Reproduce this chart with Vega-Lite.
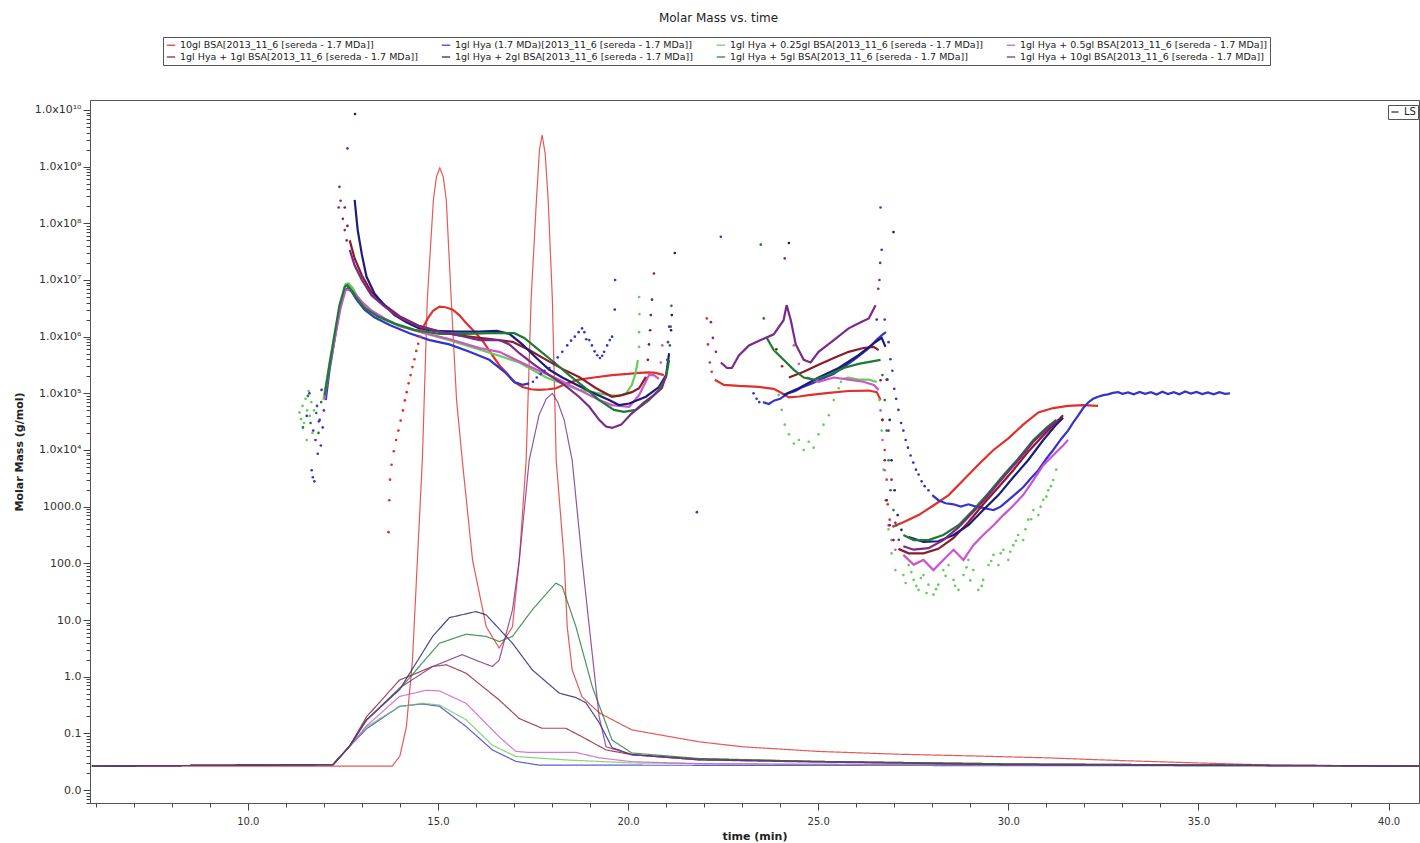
{
"$schema":"https://vega.github.io/schema/vega-lite/v6.json",
"width":1329,"height":703,
"autosize":{"type":"none"},
"padding":{"left":90,"top":100,"right":1,"bottom":40},
"background":"white",
"title":{"text":"Molar Mass vs. time","font":"DejaVu Sans","fontSize":12,"fontWeight":"normal","color":"#222","offset":12,"dx":-36,"anchor":"middle"},
"config":{"view":{"stroke":"#555","strokeWidth":1},"axis":{"labelFont":"DejaVu Sans","titleFont":"DejaVu Sans","labelColor":"#333","tickColor":"#444","grid":false,"domain":false}},
"datasets":{
"ls":[
{"s":"A","t":5.9,"m":0.0265},{"s":"A","t":13.8,"m":0.0265},{"s":"A","t":14.0,"m":0.04},{"s":"A","t":14.17,"m":0.13},{"s":"A","t":14.33,"m":1.95},{"s":"A","t":14.46,"m":115},{"s":"A","t":14.59,"m":6600},{"s":"A","t":14.72,"m":4.47e6},{"s":"A","t":14.88,"m":2.57e8},{"s":"A","t":14.96,"m":6.6e8},{"s":"A","t":15.05,"m":9.5e8},{"s":"A","t":15.14,"m":6.6e8},{"s":"A","t":15.22,"m":2.57e8},{"s":"A","t":15.35,"m":4.47e6},{"s":"A","t":15.49,"m":7.6e4},{"s":"A","t":15.64,"m":6600},{"s":"A","t":15.91,"m":115},{"s":"A","t":16.27,"m":7.6},{"s":"A","t":16.61,"m":3.2},{"s":"A","t":16.96,"m":7.6},{"s":"A","t":17.14,"m":115},{"s":"A","t":17.32,"m":6600},{"s":"A","t":17.45,"m":4.47e6},{"s":"A","t":17.59,"m":2.57e8},{"s":"A","t":17.67,"m":2.0e9},{"s":"A","t":17.74,"m":3.6e9},{"s":"A","t":17.82,"m":1.7e9},{"s":"A","t":17.9,"m":2.57e8},{"s":"A","t":18.01,"m":4.47e6},{"s":"A","t":18.11,"m":6600},{"s":"A","t":18.32,"m":115},{"s":"A","t":18.4,"m":7.6},{"s":"A","t":18.53,"m":1.32},{"s":"A","t":18.79,"m":0.44},{"s":"A","t":19.24,"m":0.23},{"s":"A","t":20.1,"m":0.115},{"s":"A","t":21.86,"m":0.071},{"s":"A","t":23,"m":0.058},{"s":"A","t":25,"m":0.048},{"s":"A","t":27,"m":0.043},{"s":"A","t":29,"m":0.04},{"s":"A","t":31,"m":0.037},{"s":"A","t":33,"m":0.033},{"s":"A","t":35,"m":0.03},{"s":"A","t":37,"m":0.0275},{"s":"A","t":40.8,"m":0.0265},
{"s":"B","t":5.9,"m":0.0265},{"s":"B","t":12.24,"m":0.028},{"s":"B","t":12.68,"m":0.059},{"s":"B","t":13.12,"m":0.12},{"s":"B","t":13.99,"m":0.3},{"s":"B","t":14.59,"m":0.33},{"s":"B","t":15.04,"m":0.3},{"s":"B","t":15.74,"m":0.132},{"s":"B","t":16.43,"m":0.051},{"s":"B","t":17.05,"m":0.032},{"s":"B","t":17.66,"m":0.0275},{"s":"B","t":40.8,"m":0.0265},
{"s":"C","t":5.9,"m":0.0265},{"s":"C","t":12.24,"m":0.028},{"s":"C","t":12.68,"m":0.059},{"s":"C","t":13.12,"m":0.13},{"s":"C","t":13.99,"m":0.295},{"s":"C","t":14.59,"m":0.339},{"s":"C","t":15.04,"m":0.316},{"s":"C","t":15.74,"m":0.174},{"s":"C","t":16.43,"m":0.062},{"s":"C","t":17.05,"m":0.039},{"s":"C","t":18.36,"m":0.034},{"s":"C","t":20.1,"m":0.03},{"s":"C","t":25,"m":0.028},{"s":"C","t":40.8,"m":0.0265},
{"s":"D","t":5.9,"m":0.0265},{"s":"D","t":12.24,"m":0.028},{"s":"D","t":12.68,"m":0.06},{"s":"D","t":13.12,"m":0.135},{"s":"D","t":13.99,"m":0.447},{"s":"D","t":14.69,"m":0.575},{"s":"D","t":15.04,"m":0.562},{"s":"D","t":15.74,"m":0.339},{"s":"D","t":16.61,"m":0.087},{"s":"D","t":17.05,"m":0.048},{"s":"D","t":17.4,"m":0.046},{"s":"D","t":18.63,"m":0.046},{"s":"D","t":19.24,"m":0.037},{"s":"D","t":20.1,"m":0.0316},{"s":"D","t":22,"m":0.029},{"s":"D","t":40.8,"m":0.0265},
{"s":"E","t":5.9,"m":0.0265},{"s":"E","t":12.24,"m":0.028},{"s":"E","t":12.68,"m":0.06},{"s":"E","t":13.12,"m":0.195},{"s":"E","t":13.99,"m":0.871},{"s":"E","t":14.86,"m":1.51},{"s":"E","t":15.22,"m":1.62},{"s":"E","t":15.74,"m":1.15},{"s":"E","t":16.61,"m":0.389},{"s":"E","t":17.14,"m":0.182},{"s":"E","t":17.74,"m":0.123},{"s":"E","t":18.36,"m":0.123},{"s":"E","t":18.79,"m":0.087},{"s":"E","t":19.42,"m":0.051},{"s":"E","t":20.1,"m":0.042},{"s":"E","t":21.86,"m":0.0355},{"s":"E","t":25,"m":0.032},{"s":"E","t":30,"m":0.029},{"s":"E","t":40.8,"m":0.0265},
{"s":"F","t":5.9,"m":0.0265},{"s":"F","t":12.24,"m":0.028},{"s":"F","t":12.68,"m":0.06},{"s":"F","t":13.12,"m":0.174},{"s":"F","t":13.99,"m":0.589},{"s":"F","t":14.86,"m":5.13},{"s":"F","t":15.3,"m":11},{"s":"F","t":16.0,"m":14.1},{"s":"F","t":16.27,"m":12.3},{"s":"F","t":16.96,"m":3.89},{"s":"F","t":17.48,"m":1.32},{"s":"F","t":18.19,"m":0.513},{"s":"F","t":18.63,"m":0.427},{"s":"F","t":18.89,"m":0.347},{"s":"F","t":19.24,"m":0.155},{"s":"F","t":19.58,"m":0.056},{"s":"F","t":20.1,"m":0.042},{"s":"F","t":21.86,"m":0.034},{"s":"F","t":25,"m":0.0316},{"s":"F","t":30,"m":0.028},{"s":"F","t":40.8,"m":0.0265},
{"s":"G","t":5.9,"m":0.0265},{"s":"G","t":12.24,"m":0.028},{"s":"G","t":12.68,"m":0.06},{"s":"G","t":13.12,"m":0.17},{"s":"G","t":13.99,"m":0.6},{"s":"G","t":15.04,"m":3.89},{"s":"G","t":15.74,"m":5.62},{"s":"G","t":16.27,"m":5.13},{"s":"G","t":16.61,"m":4.17},{"s":"G","t":16.96,"m":5.13},{"s":"G","t":17.48,"m":15.1},{"s":"G","t":18.1,"m":44.7},{"s":"G","t":18.27,"m":38.9},{"s":"G","t":18.63,"m":7.59},{"s":"G","t":19.06,"m":0.661},{"s":"G","t":19.58,"m":0.076},{"s":"G","t":20.1,"m":0.045},{"s":"G","t":21.86,"m":0.036},{"s":"G","t":25,"m":0.032},{"s":"G","t":30,"m":0.029},{"s":"G","t":40.8,"m":0.0265},
{"s":"H","t":5.9,"m":0.0265},{"s":"H","t":12.24,"m":0.028},{"s":"H","t":12.68,"m":0.06},{"s":"H","t":13.12,"m":0.17},{"s":"H","t":13.99,"m":0.631},{"s":"H","t":14.86,"m":1.51},{"s":"H","t":15.64,"m":2.45},{"s":"H","t":16.0,"m":1.95},{"s":"H","t":16.43,"m":1.51},{"s":"H","t":16.61,"m":1.95},{"s":"H","t":16.96,"m":15.1},{"s":"H","t":17.14,"m":115},{"s":"H","t":17.4,"m":6607},{"s":"H","t":17.66,"m":4.17e4},{"s":"H","t":17.85,"m":8e4},{"s":"H","t":18.01,"m":1e5},{"s":"H","t":18.15,"m":7e4},{"s":"H","t":18.32,"m":3.39e4},{"s":"H","t":18.53,"m":6607},{"s":"H","t":18.79,"m":115},{"s":"H","t":18.98,"m":7.59},{"s":"H","t":19.24,"m":0.195},{"s":"H","t":19.42,"m":0.058},{"s":"H","t":20.1,"m":0.042},{"s":"H","t":21.86,"m":0.034},{"s":"H","t":25,"m":0.031},{"s":"H","t":30,"m":0.028},{"s":"H","t":40.8,"m":0.0265}
],
"mm":[
{"s":"A","g":1,"t":14.62,"m":1.5e6},{"s":"A","g":1,"t":14.75,"m":2.2e6},{"s":"A","g":1,"t":14.88,"m":2.9e6},{"s":"A","g":1,"t":15.04,"m":3.4e6},{"s":"A","g":1,"t":15.2,"m":3.3e6},{"s":"A","g":1,"t":15.39,"m":3.0e6},{"s":"A","g":1,"t":15.56,"m":2.4e6},{"s":"A","g":1,"t":15.74,"m":1.74e6},{"s":"A","g":1,"t":16.0,"m":1.15e6},{"s":"A","g":1,"t":16.2,"m":8e5},{"s":"A","g":1,"t":16.43,"m":4.7e5},{"s":"A","g":1,"t":16.62,"m":3.1e5},{"s":"A","g":1,"t":16.8,"m":2.3e5},{"s":"A","g":1,"t":17.01,"m":1.58e5},{"s":"A","g":1,"t":17.22,"m":1.29e5},{"s":"A","g":1,"t":17.45,"m":1.18e5},{"s":"A","g":1,"t":17.66,"m":1.15e5},{"s":"A","g":1,"t":17.9,"m":1.18e5},{"s":"A","g":1,"t":18.11,"m":1.23e5},{"s":"A","g":1,"t":18.4,"m":1.5e5},{"s":"A","g":1,"t":18.71,"m":1.74e5},{"s":"A","g":1,"t":19.1,"m":1.9e5},{"s":"A","g":1,"t":19.58,"m":2.1e5},{"s":"A","g":1,"t":20.0,"m":2.2e5},{"s":"A","g":1,"t":20.29,"m":2.3e5},{"s":"A","g":1,"t":20.55,"m":2.35e5},{"s":"A","g":1,"t":20.73,"m":2.3e5},{"s":"A","g":1,"t":20.94,"m":2.1e5},
{"s":"A","g":2,"t":22.28,"m":1.74e5},{"s":"A","g":2,"t":22.52,"m":1.41e5},{"s":"A","g":2,"t":22.91,"m":1.35e5},{"s":"A","g":2,"t":23.44,"m":1.3e5},{"s":"A","g":2,"t":23.83,"m":1.2e5},{"s":"A","g":2,"t":24.05,"m":1.0e5},{"s":"A","g":2,"t":24.23,"m":8.5e4},{"s":"A","g":2,"t":24.5,"m":8.8e4},{"s":"A","g":2,"t":24.75,"m":9.3e4},{"s":"A","g":2,"t":25.28,"m":1.02e5},{"s":"A","g":2,"t":25.8,"m":1.1e5},{"s":"A","g":2,"t":26.33,"m":1.12e5},{"s":"A","g":2,"t":26.54,"m":1.05e5},{"s":"A","g":2,"t":26.64,"m":7.6e4},
{"s":"A","g":3,"t":26.95,"m":440},{"s":"A","g":3,"t":27.24,"m":530},{"s":"A","g":3,"t":27.64,"m":710},{"s":"A","g":3,"t":28.03,"m":1050},{"s":"A","g":3,"t":28.43,"m":1600},{"s":"A","g":3,"t":28.82,"m":2950},{"s":"A","g":3,"t":29.21,"m":5500},{"s":"A","g":3,"t":29.61,"m":1e4},{"s":"A","g":3,"t":30.0,"m":1.6e4},{"s":"A","g":3,"t":30.39,"m":2.8e4},{"s":"A","g":3,"t":30.79,"m":4.6e4},{"s":"A","g":3,"t":31.18,"m":5.5e4},{"s":"A","g":3,"t":31.57,"m":6.0e4},{"s":"A","g":3,"t":31.97,"m":6.2e4},{"s":"A","g":3,"t":32.36,"m":6.0e4},
{"s":"B","g":1,"t":12.05,"m":7.6e4},{"s":"B","g":1,"t":12.15,"m":2.6e5},{"s":"B","g":1,"t":12.28,"m":8.7e5},{"s":"B","g":1,"t":12.41,"m":3.0e6},{"s":"B","g":1,"t":12.55,"m":6.6e6},{"s":"B","g":1,"t":12.62,"m":7.1e6},{"s":"B","g":1,"t":12.73,"m":6.2e6},{"s":"B","g":1,"t":12.86,"m":4.5e6},{"s":"B","g":1,"t":13.07,"m":3.0e6},{"s":"B","g":1,"t":13.33,"m":2.2e6},{"s":"B","g":1,"t":13.73,"m":1.6e6},{"s":"B","g":1,"t":14.25,"m":1.15e6},{"s":"B","g":1,"t":14.78,"m":8.7e5},{"s":"B","g":1,"t":15.3,"m":7.3e5},{"s":"B","g":1,"t":15.83,"m":5.4e5},{"s":"B","g":1,"t":16.35,"m":3.9e5},{"s":"B","g":1,"t":16.75,"m":2.4e5},{"s":"B","g":1,"t":17.01,"m":1.58e5},{"s":"B","g":1,"t":17.22,"m":1.41e5},{"s":"B","g":1,"t":17.4,"m":1.5e5},
{"s":"B","g":2,"t":23.55,"m":7e4},{"s":"B","g":2,"t":23.7,"m":6.5e4},{"s":"B","g":2,"t":23.85,"m":7.5e4},{"s":"B","g":2,"t":24.0,"m":8e4},{"s":"B","g":2,"t":24.2,"m":1.0e5},{"s":"B","g":2,"t":24.4,"m":1.1e5},{"s":"B","g":2,"t":24.6,"m":1.3e5},{"s":"B","g":2,"t":24.85,"m":1.5e5},{"s":"B","g":2,"t":25.1,"m":1.8e5},{"s":"B","g":2,"t":25.4,"m":2.2e5},{"s":"B","g":2,"t":25.7,"m":3e5},{"s":"B","g":2,"t":26.0,"m":4.2e5},{"s":"B","g":2,"t":26.3,"m":6e5},{"s":"B","g":2,"t":26.55,"m":9e5},{"s":"B","g":2,"t":26.7,"m":1.1e6},{"s":"B","g":2,"t":26.78,"m":1.2e6},
{"s":"B","g":3,"t":28.0,"m":1600},{"s":"B","g":3,"t":28.16,"m":1300},{"s":"B","g":3,"t":28.35,"m":1150},{"s":"B","g":3,"t":28.56,"m":1100},{"s":"B","g":3,"t":28.75,"m":1000},{"s":"B","g":3,"t":28.95,"m":1100},{"s":"B","g":3,"t":29.15,"m":1000},{"s":"B","g":3,"t":29.34,"m":950},{"s":"B","g":3,"t":29.5,"m":900},{"s":"B","g":3,"t":29.61,"m":870},{"s":"B","g":3,"t":29.8,"m":1000},{"s":"B","g":3,"t":30.0,"m":1300},{"s":"B","g":3,"t":30.2,"m":1700},{"s":"B","g":3,"t":30.39,"m":2200},{"s":"B","g":3,"t":30.6,"m":3200},{"s":"B","g":3,"t":30.79,"m":4400},{"s":"B","g":3,"t":31.0,"m":7000},{"s":"B","g":3,"t":31.18,"m":1e4},{"s":"B","g":3,"t":31.4,"m":1.6e4},{"s":"B","g":3,"t":31.57,"m":2.2e4},{"s":"B","g":3,"t":31.7,"m":3e4},{"s":"B","g":3,"t":31.84,"m":4.1e4},{"s":"B","g":3,"t":31.97,"m":5.5e4},{"s":"B","g":3,"t":32.1,"m":6.9e4},{"s":"B","g":3,"t":32.23,"m":8e4},{"s":"B","g":3,"t":32.36,"m":8.7e4},{"s":"B","g":3,"t":32.5,"m":9.3e4},{"s":"B","g":3,"t":32.62,"m":9.6e4},{"s":"B","g":3,"t":32.75,"m":1.02e5},{"s":"B","g":3,"t":32.89,"m":1.05e5},{"s":"B","g":3,"t":33.0,"m":9.8e4},{"s":"B","g":3,"t":33.15,"m":1.04e5},{"s":"B","g":3,"t":33.3,"m":9.6e4},{"s":"B","g":3,"t":33.45,"m":1.06e5},{"s":"B","g":3,"t":33.6,"m":9.8e4},{"s":"B","g":3,"t":33.75,"m":1.05e5},{"s":"B","g":3,"t":33.9,"m":9.5e4},{"s":"B","g":3,"t":34.05,"m":1.07e5},{"s":"B","g":3,"t":34.2,"m":9.7e4},{"s":"B","g":3,"t":34.35,"m":1.05e5},{"s":"B","g":3,"t":34.5,"m":9.6e4},{"s":"B","g":3,"t":34.65,"m":1.08e5},{"s":"B","g":3,"t":34.8,"m":9.9e4},{"s":"B","g":3,"t":34.95,"m":1.06e5},{"s":"B","g":3,"t":35.1,"m":9.7e4},{"s":"B","g":3,"t":35.25,"m":1.04e5},{"s":"B","g":3,"t":35.4,"m":9.6e4},{"s":"B","g":3,"t":35.55,"m":1.05e5},{"s":"B","g":3,"t":35.7,"m":9.8e4},{"s":"B","g":3,"t":35.83,"m":1.0e5},
{"s":"C","g":1,"t":11.99,"m":7.6e4},{"s":"C","g":1,"t":12.15,"m":3.5e5},{"s":"C","g":1,"t":12.31,"m":1.3e6},{"s":"C","g":1,"t":12.44,"m":3.9e6},{"s":"C","g":1,"t":12.57,"m":8.5e6},{"s":"C","g":1,"t":12.65,"m":8.7e6},{"s":"C","g":1,"t":12.76,"m":7.2e6},{"s":"C","g":1,"t":12.89,"m":5.0e6},{"s":"C","g":1,"t":13.12,"m":3.2e6},{"s":"C","g":1,"t":13.46,"m":2.2e6},{"s":"C","g":1,"t":13.99,"m":1.55e6},{"s":"C","g":1,"t":14.65,"m":1.15e6},{"s":"C","g":1,"t":15.3,"m":8.7e5},{"s":"C","g":1,"t":15.96,"m":6.3e5},{"s":"C","g":1,"t":16.61,"m":4.6e5},{"s":"C","g":1,"t":17.14,"m":3.5e5},{"s":"C","g":1,"t":17.85,"m":1.9e5},{"s":"C","g":1,"t":18.71,"m":1.15e5},{"s":"C","g":1,"t":19.5,"m":9.3e4},{"s":"C","g":1,"t":19.76,"m":9.0e4},{"s":"C","g":1,"t":19.95,"m":1.0e5},{"s":"C","g":1,"t":20.1,"m":1.41e5},{"s":"C","g":1,"t":20.2,"m":2.3e5},{"s":"C","g":1,"t":20.26,"m":3.9e5},
{"s":"C","g":2,"t":25.67,"m":1.8e5},{"s":"C","g":2,"t":25.8,"m":1.9e5},{"s":"C","g":2,"t":26.06,"m":1.74e5},{"s":"C","g":2,"t":26.33,"m":1.74e5},{"s":"C","g":2,"t":26.54,"m":1.58e5},
{"s":"D","g":1,"t":12.02,"m":8e4},{"s":"D","g":1,"t":12.15,"m":3.0e5},{"s":"D","g":1,"t":12.31,"m":1.1e6},{"s":"D","g":1,"t":12.44,"m":3.2e6},{"s":"D","g":1,"t":12.57,"m":6.6e6},{"s":"D","g":1,"t":12.68,"m":6.9e6},{"s":"D","g":1,"t":12.81,"m":5.8e6},{"s":"D","g":1,"t":13.0,"m":4.1e6},{"s":"D","g":1,"t":13.25,"m":2.9e6},{"s":"D","g":1,"t":13.6,"m":2.1e6},{"s":"D","g":1,"t":13.99,"m":1.55e6},{"s":"D","g":1,"t":14.65,"m":1.15e6},{"s":"D","g":1,"t":15.3,"m":9.1e5},{"s":"D","g":1,"t":16.09,"m":6.3e5},{"s":"D","g":1,"t":16.61,"m":5.4e5},{"s":"D","g":1,"t":17.4,"m":3.0e5},{"s":"D","g":1,"t":18.19,"m":1.74e5},{"s":"D","g":1,"t":18.71,"m":1.15e5},{"s":"D","g":1,"t":19.24,"m":7.6e4},{"s":"D","g":1,"t":19.58,"m":6.2e4},{"s":"D","g":1,"t":20.03,"m":5.8e4},{"s":"D","g":1,"t":20.29,"m":9.3e4},{"s":"D","g":1,"t":20.55,"m":2.1e5},{"s":"D","g":1,"t":20.68,"m":2.1e5},{"s":"D","g":1,"t":20.81,"m":1.8e5},
{"s":"D","g":2,"t":24.7,"m":1.9e5},{"s":"D","g":2,"t":25.01,"m":1.6e5},{"s":"D","g":2,"t":25.41,"m":1.9e5},{"s":"D","g":2,"t":25.8,"m":1.74e5},{"s":"D","g":2,"t":26.19,"m":1.6e5},{"s":"D","g":2,"t":26.46,"m":1.41e5},{"s":"D","g":2,"t":26.59,"m":1.15e5},
{"s":"D","g":3,"t":27.24,"m":141},{"s":"D","g":3,"t":27.51,"m":95},{"s":"D","g":3,"t":27.77,"m":115},{"s":"D","g":3,"t":28.03,"m":76},{"s":"D","g":3,"t":28.29,"m":115},{"s":"D","g":3,"t":28.56,"m":174},{"s":"D","g":3,"t":28.82,"m":115},{"s":"D","g":3,"t":29.08,"m":209},{"s":"D","g":3,"t":29.34,"m":316},{"s":"D","g":3,"t":29.61,"m":470},{"s":"D","g":3,"t":29.87,"m":710},{"s":"D","g":3,"t":30.13,"m":1050},{"s":"D","g":3,"t":30.39,"m":1600},{"s":"D","g":3,"t":30.66,"m":2950},{"s":"D","g":3,"t":30.92,"m":5400},{"s":"D","g":3,"t":31.18,"m":8100},{"s":"D","g":3,"t":31.44,"m":1.2e4},{"s":"D","g":3,"t":31.57,"m":1.5e4},
{"s":"E","g":1,"t":12.68,"m":5e7},{"s":"E","g":1,"t":12.81,"m":2.4e7},{"s":"E","g":1,"t":13.0,"m":1.2e7},{"s":"E","g":1,"t":13.25,"m":6.1e6},{"s":"E","g":1,"t":13.6,"m":3.6e6},{"s":"E","g":1,"t":13.99,"m":2.3e6},{"s":"E","g":1,"t":14.51,"m":1.55e6},{"s":"E","g":1,"t":15.04,"m":1.23e6},{"s":"E","g":1,"t":15.56,"m":1.05e6},{"s":"E","g":1,"t":16.09,"m":9.5e5},{"s":"E","g":1,"t":16.61,"m":8.7e5},{"s":"E","g":1,"t":16.96,"m":8.1e5},{"s":"E","g":1,"t":17.4,"m":5.8e5},{"s":"E","g":1,"t":17.85,"m":3.9e5},{"s":"E","g":1,"t":18.27,"m":2.7e5},{"s":"E","g":1,"t":18.71,"m":1.95e5},{"s":"E","g":1,"t":19.16,"m":1.23e5},{"s":"E","g":1,"t":19.58,"m":8.7e4},{"s":"E","g":1,"t":19.84,"m":9.3e4},{"s":"E","g":1,"t":20.1,"m":1.05e5},{"s":"E","g":1,"t":20.29,"m":1.23e5},{"s":"E","g":1,"t":20.47,"m":1.95e5},
{"s":"E","g":2,"t":24.23,"m":1.9e5},{"s":"E","g":2,"t":24.62,"m":2.4e5},{"s":"E","g":2,"t":25.01,"m":3.2e5},{"s":"E","g":2,"t":25.41,"m":4.2e5},{"s":"E","g":2,"t":25.8,"m":5.4e5},{"s":"E","g":2,"t":26.19,"m":6.3e5},{"s":"E","g":2,"t":26.46,"m":6.6e5},{"s":"E","g":2,"t":26.59,"m":5.8e5},
{"s":"E","g":3,"t":27.11,"m":180},{"s":"E","g":3,"t":27.38,"m":150},{"s":"E","g":3,"t":27.77,"m":150},{"s":"E","g":3,"t":28.16,"m":180},{"s":"E","g":3,"t":28.56,"m":280},{"s":"E","g":3,"t":28.95,"m":530},{"s":"E","g":3,"t":29.34,"m":1100},{"s":"E","g":3,"t":29.74,"m":2200},{"s":"E","g":3,"t":30.13,"m":4400},{"s":"E","g":3,"t":30.52,"m":9300},{"s":"E","g":3,"t":30.92,"m":1.8e4},{"s":"E","g":3,"t":31.26,"m":3.1e4},{"s":"E","g":3,"t":31.44,"m":4.1e4},
{"s":"F","g":1,"t":12.81,"m":2.6e8},{"s":"F","g":1,"t":12.89,"m":7.6e7},{"s":"F","g":1,"t":13.0,"m":2.8e7},{"s":"F","g":1,"t":13.12,"m":1.15e7},{"s":"F","g":1,"t":13.33,"m":5.8e6},{"s":"F","g":1,"t":13.54,"m":3.9e6},{"s":"F","g":1,"t":13.86,"m":2.4e6},{"s":"F","g":1,"t":14.17,"m":1.8e6},{"s":"F","g":1,"t":14.51,"m":1.4e6},{"s":"F","g":1,"t":14.91,"m":1.26e6},{"s":"F","g":1,"t":15.49,"m":1.23e6},{"s":"F","g":1,"t":16.09,"m":1.23e6},{"s":"F","g":1,"t":16.54,"m":1.26e6},{"s":"F","g":1,"t":16.88,"m":1.12e6},{"s":"F","g":1,"t":17.22,"m":7.3e5},{"s":"F","g":1,"t":17.59,"m":4.2e5},{"s":"F","g":1,"t":17.93,"m":2.6e5},{"s":"F","g":1,"t":18.27,"m":1.9e5},{"s":"F","g":1,"t":18.71,"m":1.35e5},{"s":"F","g":1,"t":19.16,"m":9.6e4},{"s":"F","g":1,"t":19.5,"m":7.6e4},{"s":"F","g":1,"t":19.76,"m":6.2e4},{"s":"F","g":1,"t":20.03,"m":6.6e4},{"s":"F","g":1,"t":20.47,"m":8.7e4},{"s":"F","g":1,"t":20.81,"m":1.29e5},{"s":"F","g":1,"t":21.0,"m":2.1e5},{"s":"F","g":1,"t":21.08,"m":5.1e5},
{"s":"F","g":2,"t":24.09,"m":9.3e4},{"s":"F","g":2,"t":24.49,"m":1.23e5},{"s":"F","g":2,"t":25.01,"m":1.9e5},{"s":"F","g":2,"t":25.54,"m":2.8e5},{"s":"F","g":2,"t":26.06,"m":4.7e5},{"s":"F","g":2,"t":26.46,"m":7.6e5},{"s":"F","g":2,"t":26.67,"m":9.5e5},{"s":"F","g":2,"t":26.77,"m":6.6e5},
{"s":"F","g":3,"t":27.38,"m":290},{"s":"F","g":3,"t":27.77,"m":240},{"s":"F","g":3,"t":28.16,"m":245},{"s":"F","g":3,"t":28.56,"m":316},{"s":"F","g":3,"t":28.95,"m":470},{"s":"F","g":3,"t":29.34,"m":870},{"s":"F","g":3,"t":29.74,"m":1600},{"s":"F","g":3,"t":30.13,"m":3300},{"s":"F","g":3,"t":30.52,"m":6600},{"s":"F","g":3,"t":30.92,"m":1.5e4},{"s":"F","g":3,"t":31.26,"m":2.8e4},{"s":"F","g":3,"t":31.44,"m":3.7e4},
{"s":"G","g":1,"t":12.02,"m":9.3e4},{"s":"G","g":1,"t":12.15,"m":3.2e5},{"s":"G","g":1,"t":12.28,"m":1.1e6},{"s":"G","g":1,"t":12.41,"m":3.6e6},{"s":"G","g":1,"t":12.55,"m":7.6e6},{"s":"G","g":1,"t":12.62,"m":8.1e6},{"s":"G","g":1,"t":12.73,"m":6.6e6},{"s":"G","g":1,"t":12.86,"m":4.8e6},{"s":"G","g":1,"t":13.07,"m":3.2e6},{"s":"G","g":1,"t":13.41,"m":2.3e6},{"s":"G","g":1,"t":13.86,"m":1.7e6},{"s":"G","g":1,"t":14.38,"m":1.32e6},{"s":"G","g":1,"t":15.04,"m":1.12e6},{"s":"G","g":1,"t":15.7,"m":1.12e6},{"s":"G","g":1,"t":16.35,"m":1.15e6},{"s":"G","g":1,"t":17.01,"m":1.15e6},{"s":"G","g":1,"t":17.27,"m":9.5e5},{"s":"G","g":1,"t":17.66,"m":5.8e5},{"s":"G","g":1,"t":18.06,"m":3.5e5},{"s":"G","g":1,"t":18.45,"m":2.1e5},{"s":"G","g":1,"t":18.85,"m":1.29e5},{"s":"G","g":1,"t":19.24,"m":7.6e4},{"s":"G","g":1,"t":19.63,"m":5.1e4},{"s":"G","g":1,"t":19.89,"m":4.7e4},{"s":"G","g":1,"t":20.21,"m":5.1e4},{"s":"G","g":1,"t":20.55,"m":7.6e4},{"s":"G","g":1,"t":20.81,"m":1.15e5},{"s":"G","g":1,"t":21.0,"m":1.95e5},{"s":"G","g":1,"t":21.08,"m":3.9e5},
{"s":"G","g":2,"t":23.65,"m":9.5e5},{"s":"G","g":2,"t":23.83,"m":5.8e5},{"s":"G","g":2,"t":24.09,"m":3.9e5},{"s":"G","g":2,"t":24.36,"m":2.6e5},{"s":"G","g":2,"t":24.62,"m":1.9e5},{"s":"G","g":2,"t":24.88,"m":1.74e5},{"s":"G","g":2,"t":25.28,"m":2.1e5},{"s":"G","g":2,"t":25.67,"m":2.8e5},{"s":"G","g":2,"t":26.06,"m":3.3e5},{"s":"G","g":2,"t":26.46,"m":3.7e5},{"s":"G","g":2,"t":26.64,"m":3.9e5},
{"s":"G","g":3,"t":27.24,"m":316},{"s":"G","g":3,"t":27.51,"m":257},{"s":"G","g":3,"t":27.9,"m":257},{"s":"G","g":3,"t":28.29,"m":316},{"s":"G","g":3,"t":28.69,"m":470},{"s":"G","g":3,"t":29.08,"m":870},{"s":"G","g":3,"t":29.48,"m":1750},{"s":"G","g":3,"t":29.87,"m":3600},{"s":"G","g":3,"t":30.26,"m":7000},{"s":"G","g":3,"t":30.66,"m":1.5e4},{"s":"G","g":3,"t":31.0,"m":2.45e4},{"s":"G","g":3,"t":31.26,"m":3.4e4},
{"s":"H","g":1,"t":12.68,"m":3.4e7},{"s":"H","g":1,"t":12.81,"m":1.8e7},{"s":"H","g":1,"t":13.0,"m":1.0e7},{"s":"H","g":1,"t":13.25,"m":5.4e6},{"s":"H","g":1,"t":13.6,"m":3.4e6},{"s":"H","g":1,"t":13.99,"m":2.2e6},{"s":"H","g":1,"t":14.51,"m":1.5e6},{"s":"H","g":1,"t":15.04,"m":1.23e6},{"s":"H","g":1,"t":15.56,"m":1.05e6},{"s":"H","g":1,"t":16.09,"m":8.7e5},{"s":"H","g":1,"t":16.61,"m":8.7e5},{"s":"H","g":1,"t":16.88,"m":7.3e5},{"s":"H","g":1,"t":17.14,"m":5.1e5},{"s":"H","g":1,"t":17.53,"m":3.2e5},{"s":"H","g":1,"t":17.93,"m":2.1e5},{"s":"H","g":1,"t":18.32,"m":1.41e5},{"s":"H","g":1,"t":18.71,"m":8.7e4},{"s":"H","g":1,"t":18.98,"m":5.8e4},{"s":"H","g":1,"t":19.24,"m":3.4e4},{"s":"H","g":1,"t":19.42,"m":2.6e4},{"s":"H","g":1,"t":19.58,"m":2.45e4},{"s":"H","g":1,"t":19.82,"m":2.8e4},{"s":"H","g":1,"t":20.08,"m":4.3e4},{"s":"H","g":1,"t":20.42,"m":6.9e4},{"s":"H","g":1,"t":20.68,"m":9.3e4},{"s":"H","g":1,"t":20.89,"m":1.23e5},{"s":"H","g":1,"t":21.0,"m":2.1e5},
{"s":"H","g":2,"t":22.44,"m":3.5e5},{"s":"H","g":2,"t":22.6,"m":2.8e5},{"s":"H","g":2,"t":22.73,"m":2.8e5},{"s":"H","g":2,"t":22.91,"m":4.6e5},{"s":"H","g":2,"t":23.18,"m":7.0e5},{"s":"H","g":2,"t":23.49,"m":8.7e5},{"s":"H","g":2,"t":23.83,"m":1.1e6},{"s":"H","g":2,"t":24.09,"m":1.95e6},{"s":"H","g":2,"t":24.17,"m":3.6e6},{"s":"H","g":2,"t":24.28,"m":1.95e6},{"s":"H","g":2,"t":24.41,"m":7.3e5},{"s":"H","g":2,"t":24.62,"m":3.9e5},{"s":"H","g":2,"t":24.8,"m":3.5e5},{"s":"H","g":2,"t":25.01,"m":5.4e5},{"s":"H","g":2,"t":25.41,"m":8.7e5},{"s":"H","g":2,"t":25.8,"m":1.4e6},{"s":"H","g":2,"t":26.12,"m":1.8e6},{"s":"H","g":2,"t":26.33,"m":2.1e6},{"s":"H","g":2,"t":26.51,"m":3.6e6},
{"s":"H","g":3,"t":27.24,"m":200},{"s":"H","g":3,"t":27.51,"m":174},{"s":"H","g":3,"t":27.9,"m":185},{"s":"H","g":3,"t":28.29,"m":257},{"s":"H","g":3,"t":28.69,"m":430},{"s":"H","g":3,"t":29.08,"m":810},{"s":"H","g":3,"t":29.48,"m":1600},{"s":"H","g":3,"t":29.87,"m":3300},{"s":"H","g":3,"t":30.26,"m":6600},{"s":"H","g":3,"t":30.66,"m":1.4e4},{"s":"H","g":3,"t":31.05,"m":2.45e4},{"s":"H","g":3,"t":31.31,"m":3.4e4}
],
"dots":[
{"s":"A","t":13.7,"m":355},{"s":"A","t":13.72,"m":1300},{"s":"A","t":13.74,"m":3000},{"s":"A","t":13.78,"m":5500},{"s":"A","t":13.84,"m":9500},{"s":"A","t":13.9,"m":1.5e4},{"s":"A","t":13.96,"m":2.2e4},{"s":"A","t":14.02,"m":3.3e4},{"s":"A","t":14.08,"m":5e4},{"s":"A","t":14.13,"m":7.5e4},{"s":"A","t":14.18,"m":1.05e5},{"s":"A","t":14.23,"m":1.5e5},{"s":"A","t":14.28,"m":2.1e5},{"s":"A","t":14.33,"m":2.9e5},{"s":"A","t":14.38,"m":4e5},{"s":"A","t":14.43,"m":5.6e5},{"s":"A","t":14.48,"m":7.5e5},{"s":"A","t":14.53,"m":1e6},{"s":"A","t":14.58,"m":1.3e6},{"s":"A","t":22.07,"m":2.1e6},{"s":"A","t":22.1,"m":7.3e5},{"s":"A","t":22.15,"m":3.5e5},{"s":"A","t":22.2,"m":2.4e5},{"s":"A","t":26.69,"m":3.4e4},{"s":"A","t":26.75,"m":1e4},{"s":"A","t":26.8,"m":3000},{"s":"A","t":26.83,"m":1100},{"s":"A","t":26.88,"m":590},
{"s":"B","t":11.55,"m":4e4},{"s":"B","t":11.62,"m":1e5},{"s":"B","t":11.68,"m":4400},{"s":"B","t":11.71,"m":3300},{"s":"B","t":11.72,"m":2.2e4},{"s":"B","t":11.75,"m":2800},{"s":"B","t":11.78,"m":1.5e4},{"s":"B","t":11.82,"m":6e4},{"s":"B","t":11.84,"m":8600},{"s":"B","t":11.87,"m":3.2e4},{"s":"B","t":11.89,"m":3.4e4},{"s":"B","t":11.92,"m":1.2e4},{"s":"B","t":11.94,"m":1.15e5},{"s":"B","t":11.97,"m":2.5e4},{"s":"B","t":12.0,"m":5e4},
{"s":"B","t":17.5,"m":1.6e5},{"s":"B","t":17.6,"m":1.9e5},{"s":"B","t":17.7,"m":2.2e5},{"s":"B","t":17.8,"m":2.5e5},{"s":"B","t":17.93,"m":2.8e5},{"s":"B","t":18.05,"m":3.5e5},{"s":"B","t":18.15,"m":4.3e5},{"s":"B","t":18.27,"m":5.4e5},{"s":"B","t":18.4,"m":7e5},{"s":"B","t":18.5,"m":8.5e5},{"s":"B","t":18.6,"m":1e6},{"s":"B","t":18.7,"m":1.2e6},{"s":"B","t":18.79,"m":1.4e6},{"s":"B","t":18.85,"m":1.2e6},{"s":"B","t":18.9,"m":9e5},{"s":"B","t":18.98,"m":8.7e5},{"s":"B","t":19.05,"m":7e5},{"s":"B","t":19.12,"m":5.5e5},{"s":"B","t":19.19,"m":4.7e5},{"s":"B","t":19.26,"m":4.2e5},{"s":"B","t":19.32,"m":4.6e5},{"s":"B","t":19.37,"m":5.4e5},{"s":"B","t":19.45,"m":7e5},{"s":"B","t":19.52,"m":8.7e5},{"s":"B","t":19.58,"m":1e6},{"s":"B","t":19.65,"m":3e6},{"s":"B","t":19.66,"m":1e7},
{"s":"B","t":21.81,"m":800},{"s":"B","t":22.44,"m":5.8e7},{"s":"B","t":23.3,"m":1e5},{"s":"B","t":23.38,"m":8e4},{"s":"B","t":23.45,"m":7e4},{"s":"B","t":26.54,"m":2e6},{"s":"B","t":26.67,"m":3.4e7},
{"s":"B","t":26.85,"m":8e5},{"s":"B","t":26.9,"m":4e5},{"s":"B","t":26.95,"m":2.5e5},{"s":"B","t":27.0,"m":1.2e5},{"s":"B","t":27.05,"m":8e4},{"s":"B","t":27.11,"m":5.1e4},{"s":"B","t":27.18,"m":3e4},{"s":"B","t":27.24,"m":2.2e4},{"s":"B","t":27.3,"m":1.5e4},{"s":"B","t":27.36,"m":1.1e4},{"s":"B","t":27.43,"m":8000},{"s":"B","t":27.5,"m":6000},{"s":"B","t":27.57,"m":4500},{"s":"B","t":27.64,"m":3700},{"s":"B","t":27.72,"m":2800},{"s":"B","t":27.8,"m":2300},{"s":"B","t":27.9,"m":1950},
{"s":"C","t":11.36,"m":4.6e4},{"s":"C","t":11.4,"m":3.5e4},{"s":"C","t":11.44,"m":6e4},{"s":"C","t":11.48,"m":3e4},{"s":"C","t":11.52,"m":8e4},{"s":"C","t":11.55,"m":1.5e4},{"s":"C","t":11.56,"m":5e4},{"s":"C","t":11.6,"m":1.1e5},{"s":"C","t":11.63,"m":4e4},{"s":"C","t":11.67,"m":7e4},{"s":"C","t":11.7,"m":2e4},{"s":"C","t":11.74,"m":5e4},
{"s":"C","t":20.29,"m":6.6e5},{"s":"C","t":20.29,"m":1.2e6},{"s":"C","t":20.3,"m":2.5e6},{"s":"C","t":20.29,"m":5e6},
{"s":"C","t":23.88,"m":5.8e5},{"s":"C","t":23.96,"m":9.3e4},{"s":"C","t":24.04,"m":5.1e4},{"s":"C","t":24.12,"m":2.8e4},{"s":"C","t":24.23,"m":1.9e4},{"s":"C","t":24.36,"m":1.3e4},{"s":"C","t":24.49,"m":1.5e4},{"s":"C","t":24.62,"m":1e4},{"s":"C","t":24.75,"m":1.4e4},{"s":"C","t":24.88,"m":1.1e4},{"s":"C","t":25.01,"m":1.9e4},{"s":"C","t":25.14,"m":2.8e4},{"s":"C","t":25.28,"m":4.1e4},{"s":"C","t":25.41,"m":7.6e4},{"s":"C","t":25.54,"m":1.23e5},{"s":"C","t":25.6,"m":1.6e5},
{"s":"C","t":26.61,"m":7.6e4},{"s":"C","t":26.67,"m":2.2e4},{"s":"C","t":26.72,"m":4500},{"s":"C","t":26.77,"m":1300},{"s":"C","t":26.85,"m":400},{"s":"C","t":26.93,"m":150},{"s":"C","t":27.03,"m":76},
{"s":"C","t":27.24,"m":62},{"s":"C","t":27.3,"m":45},{"s":"C","t":27.38,"m":93},{"s":"C","t":27.45,"m":70},{"s":"C","t":27.51,"m":51},{"s":"C","t":27.58,"m":40},{"s":"C","t":27.64,"m":34},{"s":"C","t":27.7,"m":55},{"s":"C","t":27.77,"m":62},{"s":"C","t":27.85,"m":30},{"s":"C","t":27.9,"m":42},{"s":"C","t":28.03,"m":28},{"s":"C","t":28.1,"m":35},{"s":"C","t":28.16,"m":42},{"s":"C","t":28.29,"m":76},{"s":"C","t":28.35,"m":60},{"s":"C","t":28.43,"m":93},{"s":"C","t":28.56,"m":51},{"s":"C","t":28.6,"m":40},{"s":"C","t":28.69,"m":34},{"s":"C","t":28.82,"m":62},{"s":"C","t":28.9,"m":85},{"s":"C","t":28.95,"m":115},{"s":"C","t":29.0,"m":50},{"s":"C","t":29.08,"m":76},{"s":"C","t":29.21,"m":34},{"s":"C","t":29.3,"m":40},{"s":"C","t":29.34,"m":51},{"s":"C","t":29.48,"m":93},{"s":"C","t":29.55,"m":110},{"s":"C","t":29.61,"m":141},{"s":"C","t":29.74,"m":93},{"s":"C","t":29.8,"m":150},{"s":"C","t":29.87,"m":174},{"s":"C","t":30.0,"m":115},{"s":"C","t":30.05,"m":160},{"s":"C","t":30.13,"m":209},{"s":"C","t":30.2,"m":250},{"s":"C","t":30.26,"m":316},{"s":"C","t":30.39,"m":257},{"s":"C","t":30.45,"m":400},{"s":"C","t":30.52,"m":590},{"s":"C","t":30.6,"m":600},{"s":"C","t":30.66,"m":870},{"s":"C","t":30.79,"m":710},{"s":"C","t":30.85,"m":1000},{"s":"C","t":30.92,"m":1320},{"s":"C","t":31.0,"m":1500},{"s":"C","t":31.05,"m":1950},{"s":"C","t":31.12,"m":2300},{"s":"C","t":31.18,"m":2950},{"s":"C","t":31.26,"m":4500},
{"s":"D","t":20.86,"m":3.5e5},{"s":"D","t":20.9,"m":7e5},{"s":"D","t":24.36,"m":7e5},{"s":"D","t":24.49,"m":3.3e5},{"s":"D","t":26.64,"m":5e4},{"s":"D","t":26.69,"m":1.5e4},{"s":"D","t":26.75,"m":4400},{"s":"D","t":26.8,"m":1300},{"s":"D","t":26.85,"m":470},{"s":"D","t":26.93,"m":257},{"s":"D","t":27.03,"m":174},
{"s":"E","t":12.55,"m":1.9e8},{"s":"E","t":12.62,"m":9e7},{"s":"E","t":20.52,"m":3.9e5},{"s":"E","t":20.55,"m":7.3e5},{"s":"E","t":20.58,"m":1.3e6},{"s":"E","t":20.6,"m":2.4e6},{"s":"E","t":20.63,"m":4.5e6},{"s":"E","t":20.68,"m":1.3e7},{"s":"E","t":23.9,"m":6e5},{"s":"E","t":24.05,"m":3e5},{"s":"E","t":26.64,"m":1.7e5},{"s":"E","t":26.69,"m":3.4e4},{"s":"E","t":26.75,"m":6600},{"s":"E","t":26.8,"m":1300},{"s":"E","t":26.88,"m":470},{"s":"E","t":26.98,"m":257},
{"s":"F","t":12.82,"m":8.5e9},{"s":"F","t":21.13,"m":1.3e6},{"s":"F","t":21.15,"m":2.4e6},{"s":"F","t":21.23,"m":3e7},{"s":"F","t":24.23,"m":4.5e7},{"s":"F","t":26.98,"m":7e7},{"s":"F","t":26.82,"m":1.74e5},{"s":"F","t":26.88,"m":3.4e4},{"s":"F","t":26.93,"m":6600},{"s":"F","t":27.01,"m":1950},{"s":"F","t":27.09,"m":710},{"s":"F","t":27.19,"m":390},
{"s":"G","t":11.45,"m":2.5e4},{"s":"G","t":11.58,"m":9e4},{"s":"G","t":11.65,"m":3e4},{"s":"G","t":11.8,"m":4.5e4},{"s":"G","t":11.86,"m":2e4},{"s":"G","t":11.93,"m":7e4},{"s":"G","t":21.1,"m":7e5},{"s":"G","t":21.12,"m":1.5e6},{"s":"G","t":21.14,"m":3.5e6},{"s":"G","t":23.49,"m":4.2e7},{"s":"G","t":23.57,"m":2.1e6},{"s":"G","t":26.69,"m":2.1e5},{"s":"G","t":26.75,"m":7.6e4},{"s":"G","t":26.8,"m":2.2e4},{"s":"G","t":26.85,"m":6600},{"s":"G","t":26.9,"m":1950},{"s":"G","t":26.98,"m":870},{"s":"G","t":27.06,"m":470},
{"s":"H","t":12.62,"m":2.1e9},{"s":"H","t":12.41,"m":4.4e8},{"s":"H","t":12.44,"m":2.5e8},{"s":"H","t":12.39,"m":1.9e8},{"s":"H","t":12.5,"m":1.2e8},{"s":"H","t":12.55,"m":7.6e7},{"s":"H","t":12.6,"m":5e7},{"s":"H","t":21.03,"m":3.9e5},{"s":"H","t":21.05,"m":8e5},{"s":"H","t":21.08,"m":1.5e6},{"s":"H","t":22.18,"m":1.8e6},{"s":"H","t":22.23,"m":9.5e5},{"s":"H","t":22.31,"m":5.4e5},{"s":"H","t":24.12,"m":2.4e7},{"s":"H","t":26.58,"m":7e6},{"s":"H","t":26.61,"m":1e7},{"s":"H","t":26.63,"m":2e7},{"s":"H","t":26.64,"m":1.9e8},{"s":"H","t":26.75,"m":2e6},{"s":"H","t":26.8,"m":1.74e5},{"s":"H","t":26.85,"m":2.2e4},{"s":"H","t":26.93,"m":3000},{"s":"H","t":27.03,"m":520},{"s":"H","t":27.12,"m":260}
]
},
"resolve":{"axis":{"x":"independent","y":"independent"}},
"layer":[
{"data":{"name":"ls"},"mark":{"type":"line","strokeWidth":1.2,"opacity":0.8,"clip":true},
 "encoding":{
  "x":{"field":"t","type":"quantitative","scale":{"domain":[5.85,40.8],"nice":false,"zero":false},
   "axis":{"orient":"bottom","values":[10,15,20,25,30,35,40],"format":".1f","tickSize":7,"labelFontSize":10,"labelPadding":6,"title":"time (min)","titleFontSize":11,"titleFontWeight":"bold","titlePadding":4,"titleColor":"#222"}},
  "y":{"field":"m","type":"quantitative","scale":{"type":"log","domain":[0.0059,1.5e10],"nice":false},
   "axis":{"orient":"left","values":[0.01,0.1,1,10,100,1000,10000,100000,1000000,10000000,100000000,1000000000,10000000000],"tickSize":7,"labelFontSize":11,"labelPadding":2,"labelExpr":"datum.value >= 10000 ? '1.0x10' + (datum.value >= 1e10 ? '¹⁰' : datum.value >= 1e9 ? '⁹' : datum.value >= 1e8 ? '⁸' : datum.value >= 1e7 ? '⁷' : datum.value >= 1e6 ? '⁶' : datum.value >= 1e5 ? '⁵' : '⁴') : format(datum.value, '.1f')","title":"Molar Mass (g/mol)","titleFontSize":11,"titleFontWeight":"bold","titleColor":"#222","titlePadding":10}},
  "color":{"field":"s","type":"nominal","scale":{"domain":["A","E","B","F","C","G","D","H"],"range":["#e0302a","#8b1c28","#3434cc","#1c1c78","#66cc55","#1e7a32","#cc55cc","#7a2a88"]},
   "legend":{"orient":"none","legendX":73,"legendY":-63,"columns":4,"title":null,"symbolType":"stroke","symbolStrokeWidth":1.5,"symbolSize":70,"labelFont":"DejaVu Sans","labelFontSize":9.5,"labelColor":"#222","strokeColor":"#555","padding":3,"rowPadding":2,"columnPadding":20,"labelLimit":0,
    "labelExpr":"datum.label == 'A' ? '10gl BSA[2013_11_6 [sereda - 1.7 MDa]]' : datum.label == 'B' ? '1gl Hya (1.7 MDa)[2013_11_6 [sereda - 1.7 MDa]]' : datum.label == 'C' ? '1gl Hya + 0.25gl BSA[2013_11_6 [sereda - 1.7 MDa]]' : datum.label == 'D' ? '1gl Hya + 0.5gl BSA[2013_11_6 [sereda - 1.7 MDa]]' : datum.label == 'E' ? '1gl Hya + 1gl BSA[2013_11_6 [sereda - 1.7 MDa]]' : datum.label == 'F' ? '1gl Hya + 2gl BSA[2013_11_6 [sereda - 1.7 MDa]]' : datum.label == 'G' ? '1gl Hya + 5gl BSA[2013_11_6 [sereda - 1.7 MDa]]' : '1gl Hya + 10gl BSA[2013_11_6 [sereda - 1.7 MDa]]'"}},
  "strokeDash":{"datum":"LS","type":"nominal","scale":{"range":[[1,0]]},
   "legend":{"orient":"none","legendX":1298,"legendY":5,"title":null,"symbolType":"stroke","symbolStrokeColor":"#222","symbolStrokeWidth":1.5,"symbolSize":50,"labelFont":"DejaVu Sans","labelFontSize":10,"labelColor":"#222","strokeColor":"#555","padding":2}}
 }},
{"data":{"name":"mm"},"mark":{"type":"line","strokeWidth":2.2,"clip":true},
 "encoding":{
  "x":{"field":"t","type":"quantitative","axis":{"orient":"bottom","values":[6,7,8,9,11,12,13,14,16,17,18,19,21,22,23,24,26,27,28,29,31,32,33,34,36,37,38,39],"labels":false,"tickSize":4,"title":null}},
  "y":{"field":"m","type":"quantitative","axis":{"orient":"left","values":[0.006,0.007,0.008,0.009,0.02,0.03,0.04,0.05,0.06,0.07,0.08,0.09,0.2,0.3,0.4,0.5,0.6,0.7,0.8,0.9,2,3,4,5,6,7,8,9,20,30,40,50,60,70,80,90,200,300,400,500,600,700,800,900,2000,3000,4000,5000,6000,7000,8000,9000,2e4,3e4,4e4,5e4,6e4,7e4,8e4,9e4,2e5,3e5,4e5,5e5,6e5,7e5,8e5,9e5,2e6,3e6,4e6,5e6,6e6,7e6,8e6,9e6,2e7,3e7,4e7,5e7,6e7,7e7,8e7,9e7,2e8,3e8,4e8,5e8,6e8,7e8,8e8,9e8,2e9,3e9,4e9,5e9,6e9,7e9,8e9,9e9],"labels":false,"tickSize":4,"title":null}},
  "color":{"field":"s","type":"nominal"},
  "detail":{"field":"g","type":"nominal"}
 }},
{"data":{"name":"dots"},"mark":{"type":"point","filled":true,"size":7,"opacity":1,"clip":true},
 "encoding":{
  "x":{"field":"t","type":"quantitative","axis":null},
  "y":{"field":"m","type":"quantitative","axis":null},
  "color":{"field":"s","type":"nominal"}
 }}
]
}
